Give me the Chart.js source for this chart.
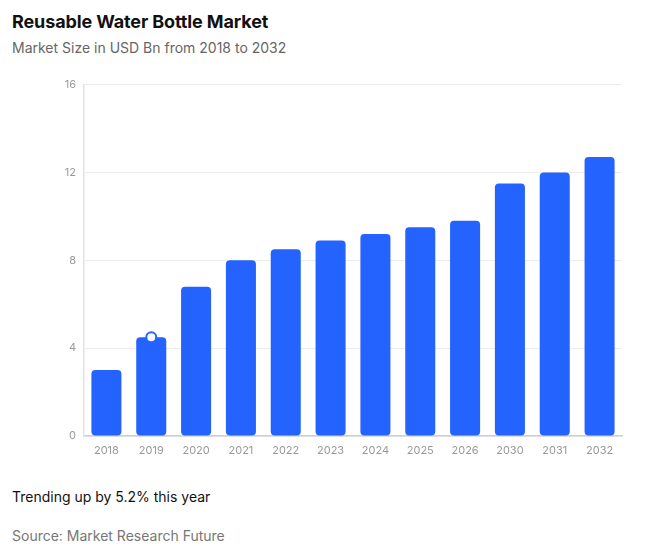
<!DOCTYPE html>
<html lang="en">
<head>
<meta charset="UTF-8">
<title>Reusable Water Bottle Market</title>
<script src="https://cdn.jsdelivr.net/npm/chart.js"></script>
<style>
  body { margin: 0; background: #fff; font-family: Inter, "Noto Sans", sans-serif; }
  .page { position: relative; width: 649px; height: 546px; }
  .title { position: absolute; left: 12px; top: 11px; font-size: 18px; font-weight: 700; color: #111; letter-spacing: -0.12px; }
  .subtitle { position: absolute; left: 12px; top: 39px; font-size: 14px; color: #666; }
  .chart-box { position: absolute; left: 0; top: 70px; width: 649px; height: 400px; }
  .trend { position: absolute; left: 12px; top: 488px; font-size: 14px; color: #111; }
  .source { position: absolute; left: 12px; top: 527px; font-size: 14px; color: #777; }
</style>
</head>
<body>
<div class="page">
  <div class="title">Reusable Water Bottle Market</div>
  <div class="subtitle">Market Size in USD Bn from 2018 to 2032</div>
  <div class="chart-box"><canvas id="chart"></canvas></div>
  <div class="trend">Trending up by 5.2% this year</div>
  <div class="source">Source: Market Research Future</div>
</div>

<script>
const years = ['2018', '2019', '2020', '2021', '2022', '2023', '2024', '2025', '2026', '2030', '2031', '2032'];
const marketSize = [3.0, 4.5, 6.8, 8.0, 8.5, 8.9, 9.2, 9.5, 9.8, 11.5, 12.0, 12.7];
// highlighted point on the 2019 bar
const highlight = [null, 4.5, null, null, null, null, null, null, null, null, null, null];
const yTicks = [0, 4, 8, 12, 16];

const blue = '#2563ff';

new Chart(document.getElementById('chart'), {
    type: 'bar',
    data: {
        labels: years,
        datasets: [{
            type: 'line',
            data: highlight,
            showLine: false,
            pointRadius: 5,
            pointBorderWidth: 2,
            pointBackgroundColor: '#fff',
            pointBorderColor: blue,
            order: 0
        }, {
            data: marketSize,
            backgroundColor: blue,
            borderRadius: 4,
            borderSkipped: false,
            barPercentage: 0.67,
            categoryPercentage: 1,
            order: 1
        }]
    },
    options: {
        responsive: true,
        maintainAspectRatio: false,
        animation: false,
        layout: { padding: { top: 12, right: 27, left: 0, bottom: 0 } },
        plugins: { legend: { display: false }, tooltip: { enabled: false } },
        scales: {
            x: {
                grid: { display: false, drawTicks: false },
                border: { color: '#cfcfcf', width: 1.5 },
                ticks: { color: '#999', padding: 8, font: { family: 'Inter', size: 11 } },
                afterFit: s => { s.height = 34; }
            },
            y: {
                min: 0,
                max: 16,
                afterBuildTicks: s => { s.ticks = yTicks.map(v => ({ value: v })); },
                grid: { color: '#ececec', drawTicks: false },
                border: { color: '#e2e2e2', width: 1.5 },
                ticks: { color: '#999', padding: 8, font: { family: 'Inter', size: 11 } },
                afterFit: s => { s.width = 84; }
            }
        }
    }
});
</script>
</body>
</html>
